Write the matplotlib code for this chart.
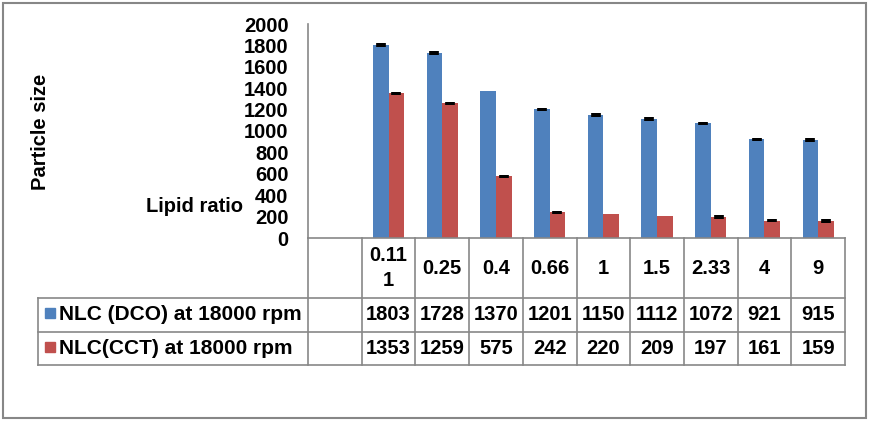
import numpy as np
import matplotlib.pyplot as plt
from matplotlib.lines import Line2D
from matplotlib.patches import Rectangle

plt.rcParams['font.family'] = ['Liberation Sans', 'DejaVu Sans']
plt.rcParams['font.weight'] = 'bold'

# data
ratios = ['0.11\n1', '0.25', '0.4', '0.66', '1', '1.5', '2.33', '4', '9']
dco = [1803, 1728, 1370, 1201, 1150, 1112, 1072, 921, 915]
cct = [1353, 1259, 575, 242, 220, 209, 197, 161, 159]
err_dco = [15, 15, 0, 15, 15, 15, 15, 15, 15]
err_cct = [15, 15, 15, 15, 0, 0, 15, 15, 15]
series = ['NLC (DCO) at 18000 rpm', 'NLC(CCT) at 18000 rpm']
colors = ['#4F81BD', '#C0504D']
grey = '#878787'
fs = 14.5

W, H = 871, 422
fig = plt.figure(figsize=(W / 100, H / 100), dpi=100)


def fx(x):
    return x / W


def fy(y):
    return 1 - y / H


# plot area (pixel box 308..845 x 24..238)
L, R, T, B = 308, 845, 24, 238
ax = fig.add_axes([fx(L), fy(B), (R - L) / W, (B - T) / H])

x = np.arange(1, len(ratios) + 1)
bw = 0.29
ax.bar(x - bw / 2, dco, bw, color=colors[0])
ax.bar(x + bw / 2, cct, bw, color=colors[1])

# small error bars (only where visible)
for off, vals, errs in [(-bw / 2, dco, err_dco), (bw / 2, cct, err_cct)]:
    e = np.array(errs)
    m = e > 0
    ax.errorbar(x[m] + off, np.array(vals)[m], yerr=e[m], fmt='none',
                ecolor='black', elinewidth=7)

ax.set_xlim(-0.5, len(ratios) + 0.5)
ax.set_ylim(0, 2000)
ax.set_yticks(range(0, 2001, 200))
ax.set_xticks([])
ax.tick_params(axis='y', length=0, pad=14, labelsize=fs)
for s in ['top', 'right']:
    ax.spines[s].set_visible(False)
for s in ['left', 'bottom']:
    ax.spines[s].set_color(grey)
    ax.spines[s].set_linewidth(1.2)

# axis titles
fig.text(fx(40), fy(132), 'Particle size', rotation=90, ha='center',
         va='center', fontsize=fs, fontweight='bold')
fig.text(fx(243), fy(206), 'Lipid ratio', ha='right', va='center',
         fontsize=fs, fontweight='bold')


# data table under the chart
def hline(y, x0, x1):
    fig.add_artist(Line2D([fx(x0), fx(x1)], [fy(y), fy(y)], color=grey, lw=1.2))


def vline(xp, y0, y1):
    fig.add_artist(Line2D([fx(xp), fx(xp)], [fy(y0), fy(y1)], color=grey, lw=1.2))


ncol = len(ratios) + 1
step = (R - L) / ncol
bounds = [L + k * step for k in range(ncol + 1)]
row_y = [238, 298, 332, 365]
tab_left = 38

for bx in bounds:
    vline(bx, row_y[0], row_y[3])
vline(tab_left, row_y[1], row_y[3])
for ry in row_y[1:]:
    hline(ry, tab_left, R)

for k, lab in enumerate(ratios):
    cx = (bounds[k + 1] + bounds[k + 2]) / 2
    fig.text(fx(cx), fy(268), lab, ha='center', va='center',
             linespacing=1.35, fontsize=fs, fontweight='bold')

for r, vals in enumerate([dco, cct]):
    cy = (row_y[r + 1] + row_y[r + 2]) / 2
    for k, v in enumerate(vals):
        cx = (bounds[k + 1] + bounds[k + 2]) / 2
        fig.text(fx(cx), fy(cy), str(v), ha='center', va='center',
                 fontsize=fs, fontweight='bold')
    fig.add_artist(Rectangle((fx(45), fy(cy + 3)), 10 / W, 10 / H,
                             color=colors[r], transform=fig.transFigure))
    fig.text(fx(59), fy(cy), series[r], ha='left', va='center',
             fontsize=fs + 0.5, fontweight='bold')

# outer chart border
fig.add_artist(Rectangle((fx(3), fy(418)), (866 - 3) / W, (418 - 3) / H,
                         fill=False, edgecolor=grey, lw=1.5,
                         transform=fig.transFigure))

fig.savefig('out.png', dpi=100)
